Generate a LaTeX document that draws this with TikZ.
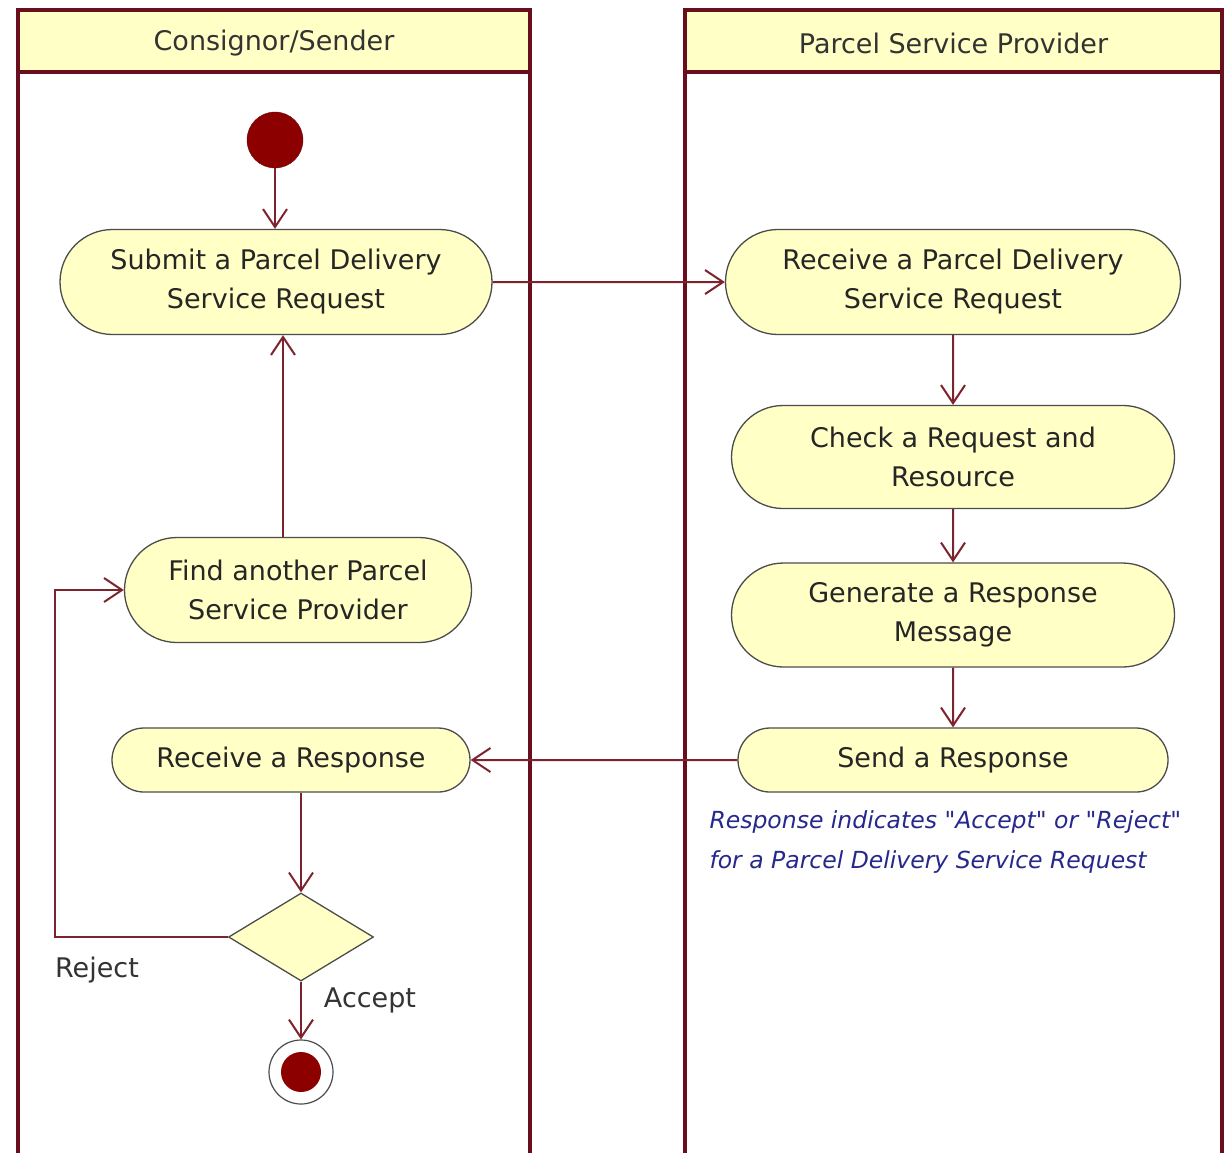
\documentclass[tikz,border=0pt]{standalone}
\usepackage{fontspec}
\setmainfont{DejaVu Sans}
\usetikzlibrary{arrows.meta,shapes.misc,shapes.geometric,positioning}
\definecolor{lanered}{RGB}{105,14,28}
\definecolor{flowred}{RGB}{125,35,45}
\definecolor{actfill}{RGB}{255,255,198}
\definecolor{noteblue}{RGB}{38,40,140}
\definecolor{dotred}{RGB}{140,0,0}

\begin{document}
\begin{tikzpicture}[x=1pt,y=-1pt,
    lanestyle/.style={draw=lanered,line width=4pt},
    actstyle/.style={rounded rectangle,draw=black!70,line width=1.3pt,fill=actfill,
        align=center,text=black!85,font=\fontsize{27}{39}\selectfont,inner sep=0pt},
    flow/.style={draw=flowred,line width=2pt,-{Straight Barb[length=18pt,width=24pt,line width=2pt]}},
    lbl/.style={text=black!80,font=\fontsize{27}{30}\selectfont}]
    \useasboundingbox (0,0) rectangle (1230,1152);
    % swimlanes
    \foreach \name/\xa/\xb/\txt in {cons/18/530/{Consignor/Sender},prov/685/1222/{Parcel Service Provider}} {
        \draw[lanestyle,fill=white] (\xa,10) rectangle (\xb,1175);
        \draw[lanestyle,fill=actfill] (\xa,10) rectangle (\xb,72);
        \node[lbl] (\name) at ({(\xa+\xb)/2},43) {\txt};
    }
    % activities
    \node[circle,fill=dotred,draw=lanered,minimum size=56pt] (start) at (275,140) {};
    \node[actstyle,minimum width=432pt,minimum height=105pt] (submit) at (276,282) {Submit a Parcel Delivery\\Service Request};
    \node[actstyle,minimum width=455pt,minimum height=105pt] (recv) at (953,282) {Receive a Parcel Delivery\\Service Request};
    \node[actstyle,minimum width=443pt,minimum height=103pt] (check) at (953,457) {Check a Request and\\Resource};
    \node[actstyle,minimum width=443pt,minimum height=104pt] (gen) at (953,615) {Generate a Response\\Message};
    \node[actstyle,minimum width=430pt,minimum height=64pt] (send) at (953,760) {Send a Response};
    \node[actstyle,minimum width=358pt,minimum height=64pt] (resp) at (291,760) {Receive a Response};
    \node[actstyle,minimum width=347pt,minimum height=105pt] (find) at (298,590) {Find another Parcel\\Service Provider};
    \node[diamond,draw=black!70,line width=1.3pt,fill=actfill,minimum width=145pt,minimum height=88pt,inner sep=0pt] (dec) at (301,937) {};
    \node[circle,draw=black!70,line width=1.2pt,fill=white,minimum size=64pt] (stop) at (301,1072) {};
    \fill[dotred] (stop) circle (20pt);
    \coordinate (bend) at (55,937);
    % flows
    \draw[flow] (start) -- (start |- submit.north);
    \draw[flow] (submit) -- (recv);
    \draw[flow] (recv) -- (check);
    \draw[flow] (check) -- (gen);
    \draw[flow] (gen) -- (send);
    \draw[flow] (send) -- (resp);
    \draw[flow] (dec.north |- resp.south) -- (dec);
    \draw[flow] (dec) -- (stop);
    \draw[flow] (dec.west) -- (bend) |- (find.west);
    \draw[flow] ([xshift=-15pt]find.north) -- ([xshift=-15pt]find.north |- submit.south);
    % labels
    \node[lbl] (reject) at (97,970) {Reject};
    \node[lbl] (accept) at (370,1000) {Accept};
    \node[anchor=west,align=left,text=noteblue,font=\fontsize{23.5}{40}\selectfont\itshape] (note) at (706,842)
        {Response indicates \textquotedbl Accept\textquotedbl{} or \textquotedbl Reject\textquotedbl\\for a Parcel Delivery Service Request};
\end{tikzpicture}
\end{document}
